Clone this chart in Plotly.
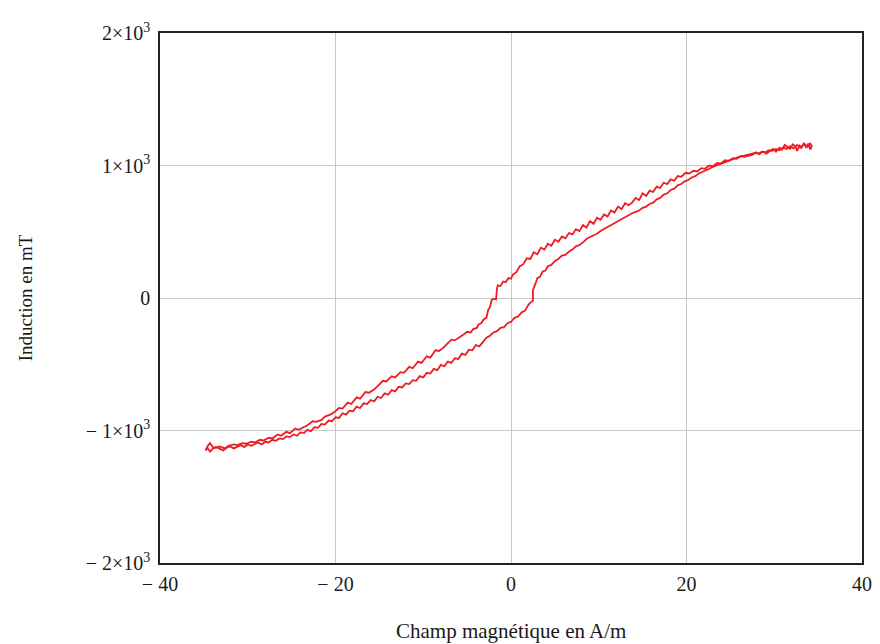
import plotly.graph_objects as go

# Descending branch (H decreasing), H in A/m, B in mT
h_down = [34.3, 34.1, 33.9, 33.6, 33.4, 33.1, 32.9, 32.6, 32.4, 32.1, 31.8, 31.5, 31.2,
          30.9, 30.6, 30.2, 29.9, 29.5, 29.1, 28.7, 28.3, 27.9, 27.5, 27.1, 26.6, 26.2,
          25.7, 25.3, 24.8, 24.4, 23.9, 23.5, 23.0, 22.6, 22.1, 21.7, 21.2, 20.8, 20.3,
          19.9, 19.4, 19.0, 18.6, 18.2, 17.8, 17.4, 17.0, 16.6, 16.2, 15.8, 15.4, 15.0,
          14.6, 14.2, 13.8, 13.4, 13.0, 12.6, 12.2, 11.8, 11.4, 11.0, 10.6, 10.2, 9.8,
          9.4, 9.0, 8.6, 8.2, 7.8, 7.4, 7.0, 6.6, 6.2, 5.8, 5.4, 5.0, 4.6, 4.2, 3.8, 3.4,
          3.0, 2.6, 2.2, 1.8, 1.4, 1.0, 0.6, 0.2, 0.0, -0.3, -0.6, -0.9, -1.2, -1.5,
          -1.6, -1.7, -2.0, -2.2, -2.4, -2.6, -2.8, -3.1, -3.4, -3.7, -3.9, -4.3, -4.6,
          -5.0, -5.5, -5.9, -6.4, -6.8, -7.3, -7.7, -8.2, -8.6, -9.2, -9.6, -10.2, -10.6,
          -11.2, -11.6, -12.2, -12.6, -13.2, -13.6, -14.2, -14.6, -15.2, -15.6, -16.2,
          -16.6, -17.2, -17.6, -18.2, -18.6, -19.2, -19.6, -20.2, -20.6, -21.2, -21.6,
          -22.2, -22.6, -23.2, -23.6, -24.2, -24.6, -25.2, -25.6, -26.2, -26.6, -27.2,
          -27.6, -28.2, -28.6, -29.2, -29.6, -30.2, -30.6, -31.2, -31.6, -32.2, -32.6,
          -33.2, -33.6, -34.0, -34.3, -34.6, -34.8]
b_down = [1150, 1120, 1165, 1140, 1170, 1135, 1150, 1110, 1145, 1160, 1125, 1140, 1155,
          1120, 1135, 1105, 1125, 1110, 1090, 1105, 1085, 1100, 1080, 1075, 1065, 1070,
          1050, 1055, 1035, 1040, 1015, 1020, 995, 1000, 975, 980, 955, 960, 940,
          945, 915, 920, 885, 895, 860, 870, 830, 840, 800, 810, 770, 790,
          740, 755, 720, 700, 715, 670, 690, 645, 660, 615, 630, 590, 605,
          560, 580, 530, 550, 505, 520, 480, 490, 450, 465, 425, 440, 395, 410, 365, 380,
          330, 345, 295, 300, 255, 240, 195, 175, 145, 150, 120, 125, 90, 95,
          70, -10, -5, -15, -70, -90, -150, -160, -190, -200, -226, -235, -260,
          -255, -280, -300, -320, -315, -350, -375, -400, -395, -450, -440, -490, -480,
          -530, -520, -565, -560, -600, -590, -630, -625, -665, -690, -715,
          -710, -760, -750, -800, -790, -835, -830, -865, -880, -895, -920,
          -935, -930, -960, -975, -995, -985, -1020, -1010, -1040, -1030, -1060,
          -1055, -1075, -1070, -1090, -1085, -1100, -1095, -1110, -1105, -1115, -1135,
          -1120, -1130, -1125, -1095, -1120, -1150]

# Ascending branch (H increasing)
h_up = [-34.8, -34.6, -34.3, -34.0, -33.6, -33.2, -32.8, -32.4, -32.0, -31.6, -31.2,
        -30.8, -30.4, -30.0, -29.6, -29.2, -28.8, -28.4, -28.0, -27.6, -27.2, -26.8,
        -26.4, -26.0, -25.6, -25.2, -24.8, -24.4, -24.0, -23.6, -23.2, -22.8, -22.4,
        -22.0, -21.6, -21.2, -20.8, -20.4, -20.0, -19.6, -19.2, -18.8, -18.4, -18.0,
        -17.6, -17.2, -16.8, -16.4, -16.0, -15.6, -15.2, -14.8, -14.4, -14.0, -13.6,
        -13.2, -12.8, -12.4, -12.0, -11.6, -11.2, -10.8, -10.4, -10.0, -9.6, -9.2,
        -8.8, -8.4, -8.0, -7.6, -7.2, -6.8, -6.4, -6.0, -5.6, -5.2, -4.8, -4.4, -4.0,
        -3.6, -3.2, -2.8, -2.4, -2.0, -1.6, -1.2, -0.8, -0.4, 0.0, 0.4, 0.8, 1.2, 1.6,
        2.0, 2.3, 2.5, 2.5, 2.6, 2.8, 3.0, 3.3, 3.6, 3.9, 4.2, 4.6, 5.0, 5.4, 5.8, 6.2,
        6.6, 7.0, 7.4, 7.8, 8.2, 8.6, 9.0, 9.4, 9.8, 10.2, 10.6, 11.0, 11.4, 11.8, 12.2,
        12.6, 13.0, 13.4, 13.8, 14.2, 14.6, 15.0, 15.4, 15.8, 16.2, 16.6, 17.0, 17.4,
        17.8, 18.2, 18.6, 19.0, 19.4, 19.8, 20.2, 20.6, 21.0, 21.4, 21.8, 22.2, 22.6,
        23.0, 23.4, 23.8, 24.2, 24.6, 25.0, 25.4, 25.8, 26.2, 26.6, 27.0, 27.4, 27.8,
        28.2, 28.6, 29.0, 29.4, 29.8, 30.2, 30.6, 31.0, 31.4, 31.8, 32.2, 32.6, 33.0,
        33.4, 33.8, 34.1, 34.3]
b_up = [-1150, -1130, -1160, -1140, -1125, -1135, -1150, -1130, -1120, -1135, -1125,
        -1110, -1125, -1105, -1115, -1100, -1090, -1105, -1085, -1090, -1070, -1078,
        -1060, -1065, -1045, -1050, -1030, -1040, -1015, -1020, -995, -1005, -975,
        -980, -950, -955, -925, -930, -900, -905, -870, -880, -850, -855,
        -820, -830, -795, -800, -770, -780, -745, -755, -720, -730, -695,
        -705, -670, -675, -645, -650, -620, -625, -590, -600, -565, -570,
        -535, -545, -505, -515, -480, -490, -455, -460, -420, -430, -390, -395, -355,
        -365, -330, -300, -285, -260, -250, -225, -220, -190, -180, -150, -140, -110, -95,
        -50, -30, -20, 60, 75, 110, 150, 160, 200, 205, 240, 250, 280, 295, 320, 325,
        350, 365, 390, 400, 420, 445, 460, 470, 485, 505, 520, 535, 555, 570, 585,
        595, 610, 630, 640, 650, 660, 680, 690, 710, 720, 745, 755, 780,
        790, 815, 825, 850, 860, 880, 890, 910, 920, 940, 950, 965, 975,
        990, 1000, 1015, 1025, 1035, 1045, 1050, 1060, 1070, 1075, 1080, 1085, 1095,
        1090, 1105, 1100, 1115, 1110, 1125, 1115, 1135, 1125, 1145, 1130, 1155, 1135,
        1160, 1140, 1165, 1145]

x_ticks = [-40, -20, 0, 20, 40]
x_tick_labels = ["\u2212 40", "\u2212 20", "0", "20", "40"]
y_ticks = [-2000, -1000, 0, 1000, 2000]
y_tick_labels = ["\u2212 2\u00d710<sup>3</sup>", "\u2212 1\u00d710<sup>3</sup>", "0",
                 "1\u00d710<sup>3</sup>", "2\u00d710<sup>3</sup>"]

red = "#ED1C24"
fig = go.Figure()
fig.add_trace(go.Scatter(x=h_down, y=b_down, mode="lines",
                         line=dict(color=red, width=1.8), showlegend=False))
fig.add_trace(go.Scatter(x=h_up, y=b_up, mode="lines",
                         line=dict(color=red, width=1.8), showlegend=False))

fam = "Liberation Serif, Times New Roman, serif"
tick_font = dict(family=fam, size=20, color="#1a1a1a")
fig.update_layout(
    width=880, height=644,
    # page body adds an 8 px offset; margins compensate so the plot frame
    # lands at x 160..862, y 30..563 in the window
    margin=dict(l=152, r=26, t=22, b=89),
    paper_bgcolor="white", plot_bgcolor="white",
    font=tick_font,
    xaxis=dict(range=[-40, 40], tickvals=x_ticks, ticktext=x_tick_labels,
               tickfont=tick_font,
               showgrid=True, gridcolor="#c8c8c8", gridwidth=1.2,
               zeroline=False, showline=True, linecolor="#222", linewidth=1.5,
               mirror=True, ticks="outside", ticklen=2, tickcolor="rgba(0,0,0,0)",
               fixedrange=True),
    yaxis=dict(range=[-2000, 2000], tickvals=y_ticks, ticktext=y_tick_labels,
               tickfont=tick_font,
               showgrid=True, gridcolor="#c8c8c8", gridwidth=1.2,
               zeroline=False, showline=True, linecolor="#222", linewidth=1.5,
               mirror=True, ticks="outside", ticklen=4, tickcolor="rgba(0,0,0,0)",
               fixedrange=True),
    annotations=[
        dict(text="Champ magn\u00e9tique en A/m", xref="paper", yref="paper",
             x=0.5, y=-0.129, xanchor="center", yanchor="middle",
             showarrow=False, font=dict(family=fam, size=21, color="#1a1a1a")),
        dict(text="Induction en mT", xref="paper", yref="paper",
             x=-0.192, y=0.5, xanchor="center", yanchor="middle", textangle=-90,
             showarrow=False, font=dict(family=fam, size=19, color="#1a1a1a")),
    ],
)
fig.write_html("out.html")
